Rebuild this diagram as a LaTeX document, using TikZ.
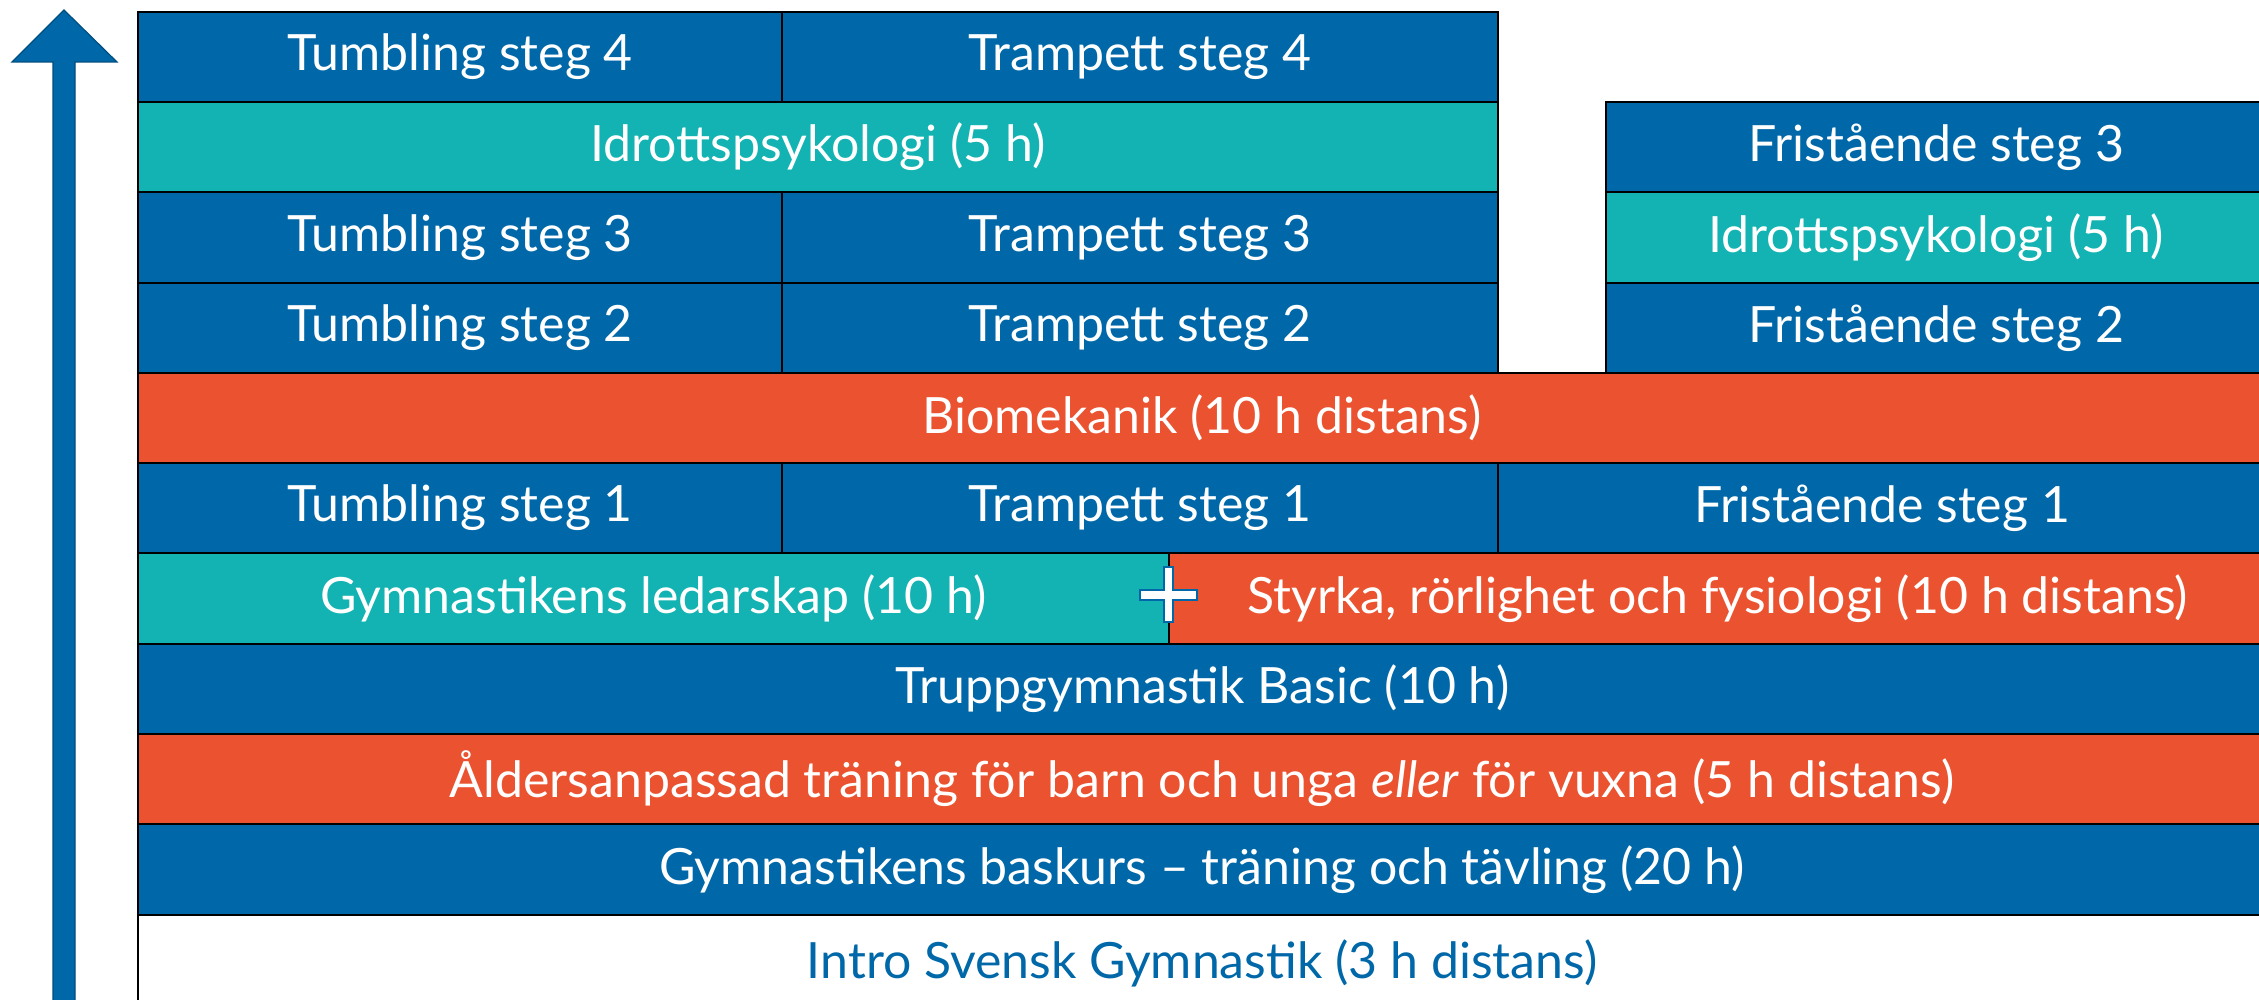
\documentclass[tikz,border=0pt]{standalone}
\usepackage{fontspec}
\setmainfont{Lato}
\definecolor{cblue}{RGB}{0,104,168}
\definecolor{cteal}{RGB}{18,179,178}
\definecolor{corange}{RGB}{234,82,48}
\definecolor{cdark}{RGB}{0,78,128}
\begin{document}
\begin{tikzpicture}[x=0.5pt,y=-0.5pt,
  cell/.style={draw=black,line width=1.1pt,text=white,inner sep=0pt,font=\fontsize{25}{28}\selectfont},
  bl/.style={cell,fill=cblue},
  te/.style={cell,fill=cteal},
  or/.style={cell,fill=corange}]
\useasboundingbox (0,0) rectangle (2259,1000);
\clip (0,0) rectangle (2259,1000);
% helper: \cel{style}{name}{x1}{y1}{x2}{y2}{text}
\newcommand\cel[7]{%
  \pgfmathsetmacro\ww{(#5-#3)*0.5}%
  \pgfmathsetmacro\hh{(#6-#4)*0.5}%
  \node[#1,minimum width=\ww pt,minimum height=\hh pt,anchor=north west] (#2) at (#3,#4) {#7};}
% row 1
\cel{bl}{t4}{137}{11}{781}{101}{Tumbling steg 4}
\cel{bl}{p4}{781}{11}{1497}{101}{Trampett steg 4}
% row 2
\cel{te}{id1}{137}{101}{1497}{191}{Idrottspsykologi (5 h)}
\cel{bl}{f3}{1605}{101}{2265}{191}{Fristående steg 3}
% row 3
\cel{bl}{t3}{137}{191}{781}{282}{Tumbling steg 3}
\cel{bl}{p3}{781}{191}{1497}{282}{Trampett steg 3}
\cel{te}{id2}{1605}{191}{2265}{282}{Idrottspsykologi (5 h)}
% row 4
\cel{bl}{t2}{137}{282}{781}{372}{Tumbling steg 2}
\cel{bl}{p2}{781}{282}{1497}{372}{Trampett steg 2}
\cel{bl}{f2}{1605}{282}{2265}{372}{Fristående steg 2}
% row 5
\cel{or}{bio}{137}{372}{2265}{462}{Biomekanik (10 h distans)}
% row 6
\cel{bl}{t1}{137}{462}{781}{552}{Tumbling steg 1}
\cel{bl}{p1}{781}{462}{1497}{552}{Trampett steg 1}
\cel{bl}{f1}{1497}{462}{2265}{552}{Fristående steg 1}
% row 7
\cel{te}{led}{137}{552}{1168}{643}{Gymnastikens ledarskap (10 h)}
\cel{or}{sty}{1168}{552}{2265}{643}{Styrka, rörlighet och fysiologi (10 h distans)}
% row 8
\cel{bl}{tru}{137}{643}{2265}{733}{Truppgymnastik Basic (10 h)}
% row 9
\cel{or}{ald}{137}{733}{2265}{823}{Åldersanpassad träning för barn och unga \textit{eller} för vuxna (5 h distans)}
% row 10
\cel{bl}{bas}{137}{823}{2265}{914}{Gymnastikens baskurs – träning och tävling (20 h)}
% row 11
\cel{cell}{intro}{137}{914}{2265}{1010}{\textcolor{cblue}{Intro Svensk Gymnastik (3 h distans)}}
% plus sign
\draw[fill=white,draw=cblue,line width=1pt]
  (1163.5,566.5) -- (1172.5,566.5) -- (1172.5,589.5) -- (1196.5,589.5) -- (1196.5,599.5)
  -- (1172.5,599.5) -- (1172.5,621.5) -- (1163.5,621.5) -- (1163.5,599.5) -- (1139.5,599.5)
  -- (1139.5,589.5) -- (1163.5,589.5) -- cycle;
% arrow
\draw[fill=cblue,draw=cdark,line width=0.6pt]
  (53,1010) -- (53,62) -- (12,62) -- (64,10) -- (117,62) -- (75,62) -- (75,1010) -- cycle;
\end{tikzpicture}
\end{document}
